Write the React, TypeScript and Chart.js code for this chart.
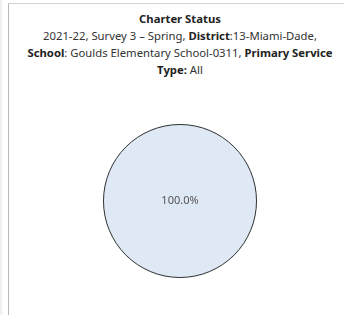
import React, { useEffect, useRef } from "react";
import { Chart, registerables } from "chart.js";

Chart.register(...registerables);

const categories = ["Non-Charter"];
const values = [100];
const percentLabels = ["100.0%"];

const titleMain = "Charter Status";

const pieLabelPlugin = {
  id: "pieLabel",
  afterDatasetsDraw(chart: any) {
    const meta = chart.getDatasetMeta(0);
    const ctx = chart.ctx;
    ctx.save();
    meta.data.forEach((arc: any, i: number) => {
      const full = arc.circumference >= Math.PI * 2 - 1e-6;
      ctx.strokeStyle = "#333333";
      ctx.lineWidth = 1;
      ctx.beginPath();
      if (full) {
        ctx.arc(arc.x, arc.y, arc.outerRadius - 0.5, 0, Math.PI * 2);
      } else {
        ctx.moveTo(arc.x, arc.y);
        ctx.arc(arc.x, arc.y, arc.outerRadius - 0.5, arc.startAngle, arc.endAngle);
        ctx.closePath();
      }
      ctx.stroke();
      ctx.fillStyle = "#555555";
      ctx.font = "11px 'Noto Sans', sans-serif";
      ctx.textAlign = "center";
      ctx.textBaseline = "middle";
      const pos = full ? { x: arc.x, y: arc.y } : arc.tooltipPosition();
      ctx.fillText(percentLabels[i], pos.x, pos.y);
    });
    ctx.restore();
  },
};

export default function App() {
  const ref = useRef<HTMLCanvasElement | null>(null);
  useEffect(() => {
    document.body.style.margin = "0";
    document.body.style.overflow = "hidden";
    const chart = new Chart(ref.current as HTMLCanvasElement, {
      type: "pie",
      data: {
        labels: categories,
        datasets: [
          {
            data: values,
            backgroundColor: "#dfe9f5",
            borderWidth: 0,
            hoverOffset: 0,
          },
        ],
      },
      options: {
        animation: false,
        responsive: false,
        maintainAspectRatio: false,
        layout: { padding: 0 },
        plugins: {
          legend: { display: false },
          tooltip: { enabled: false },
          title: { display: false },
        },
      },
      plugins: [pieLabelPlugin],
    });
    return () => chart.destroy();
  }, []);

  const font = "'Noto Sans', sans-serif";
  return (
    <div
      style={{
        position: "relative",
        width: 344,
        height: 315,
        overflow: "hidden",
        background: "#ffffff",
        fontFamily: font,
      }}
    >
      <div
        style={{
          position: "absolute",
          left: 0,
          top: 0,
          width: 2,
          height: 315,
          background: "#f0f0f0",
        }}
      />
      <div
        style={{
          position: "absolute",
          left: 8,
          top: 3,
          width: 360,
          height: 320,
          borderLeft: "1px solid #b8b8b8",
          borderTop: "1px solid #d4d4d4",
        }}
      />
      <div
        style={{
          position: "absolute",
          left: 9,
          top: 10,
          width: 342,
          textAlign: "center",
          fontSize: 11.3,
          lineHeight: "17px",
          color: "#333333",
        }}
      >
        <div style={{ fontWeight: 700, color: "#222222" }}>{titleMain}</div>
        <div>
          2021-22, Survey 3 – Spring, <b style={{ color: "#222" }}>District</b>:13-Miami-Dade,
          <br />
          <b style={{ color: "#222" }}>School</b>: Goulds Elementary School-0311,{" "}
          <b style={{ color: "#222" }}>Primary Service</b>
          <br />
          <b style={{ color: "#222" }}>Type:</b> All
        </div>
      </div>
      <canvas
        ref={ref}
        width={344}
        height={154}
        style={{ position: "absolute", left: 8, top: 124, width: 344, height: 154 }}
      />
    </div>
  );
}
